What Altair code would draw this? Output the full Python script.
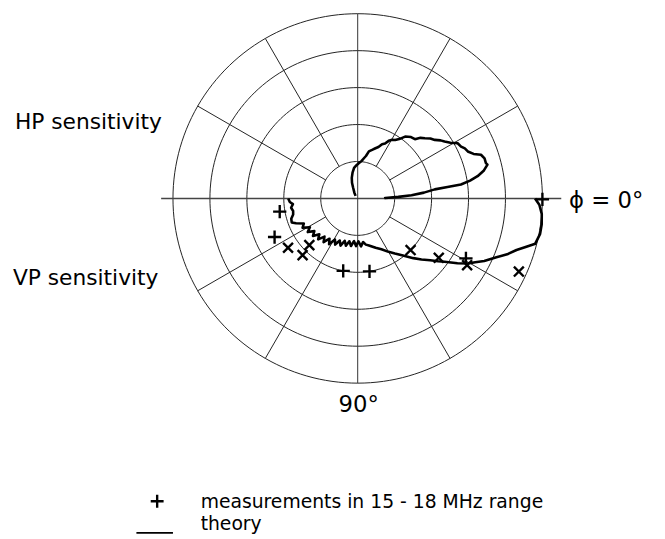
import altair as alt
import pandas as pd
import numpy as np

# ---------------- data (radius in ring units, angle in degrees) ----------------
ring_radii = [1, 2, 3, 4, 5]
spoke_angles = [30, 60, 120, 150, 210, 240, 300, 330]

# HP sensitivity (upper half), angle counter-clockwise from phi = 0
hp_phi = [0, 1, 2.2, 3.3, 5.0, 6.7, 7.2, 7.7, 9.0, 10.5, 12.5, 14.6, 15.4, 17.5, 19.5, 21.0, 23.1, 25.0,
          26.6, 28.9, 31.0, 33.2, 35.0, 37.2, 39.5, 41.8, 44.0, 46.0, 49.0, 52.5, 55.0, 57.3, 59.5, 61.7,
          63.5, 65.8, 68.0, 70.5, 73.0, 76.6, 79.0, 81.2, 84.0, 87.9, 92.0, 96.8, 101.0, 106.0, 110.0,
          113.0, 120.0, 129.0]
hp_r = [0.72, 0.75, 1.10, 1.46, 1.80, 2.10, 2.45, 2.82, 3.08, 3.30, 3.50, 3.63, 3.60, 3.60, 3.54, 3.36,
        3.24, 3.20, 3.13, 3.09, 2.93, 2.81, 2.74, 2.62, 2.55, 2.44, 2.36, 2.23, 2.20, 2.11, 1.96, 1.88,
        1.84, 1.77, 1.66, 1.61, 1.50, 1.44, 1.38, 1.31, 1.17, 1.10, 1.02, 0.96, 0.90, 0.83, 0.72, 0.58,
        0.45, 0.32, 0.18, 0.09]

# VP sensitivity (lower half), angle clockwise from phi = 0 towards 90 deg (bottom)
vp_phi = [0, 2, 4.8, 8, 11, 14.3, 16, 18, 20.5, 23, 26.3, 28.5, 30.6, 33, 36.1, 38, 40.5, 43.7, 47, 52.1,
          56, 60, 65, 70, 76.6, 80, 83, 86, 89, 92, 95, 98, 101, 104, 107, 110, 113, 116, 119, 122, 125,
          128, 131, 134, 137, 140, 143, 146, 149, 152, 155, 158, 160, 163, 166, 169, 172, 175, 177, 180]
vp_r = [4.80, 4.92, 5.00, 5.03, 5.03, 4.96, 4.75, 4.52, 4.32, 4.08, 3.82, 3.62, 3.46, 3.22, 2.91, 2.76,
        2.58, 2.39, 2.21, 1.95, 1.80, 1.67, 1.52, 1.42, 1.31, 1.27, 1.19, 1.30, 1.16, 1.29, 1.16, 1.30,
        1.18, 1.32, 1.20, 1.36, 1.24, 1.39, 1.27, 1.46, 1.33, 1.50, 1.37, 1.54, 1.42, 1.58, 1.47, 1.63,
        1.51, 1.69, 1.61, 1.80, 1.90, 1.88, 1.80, 1.78, 1.82, 1.76, 1.84, 1.88]

# measurements in 15 - 18 MHz range (VP, lower half)
meas_plus_phi = [0.3, 29.0, 80.8, 101.3, 155.1, 170.4]
meas_plus_r = [5.00, 3.35, 2.00, 2.00, 2.48, 2.14]
meas_x_phi = [24.4, 31.4, 36.2, 44.3, 134.2, 136.0, 144.7]
meas_x_r = [4.79, 3.47, 2.72, 2.00, 2.14, 1.82, 2.31]

# ---------------- layout ----------------
W, H = 657, 531
U = 37.4                 # pixels per ring
CX, CY = 354, 189.5      # centre in plot coordinates
xs = alt.Scale(domain=[-CX / U, (W - CX) / U], nice=False, zero=False)
ys = alt.Scale(domain=[-(H - CY) / U, CY / U], nice=False, zero=False)
FONT = "DejaVu Sans"
PLUS = "M-1,0L1,0M0,-1L0,1"
CROSS = "M-1,-1L1,1M-1,1L1,-1"

def X(f):
    return alt.X(f, type="quantitative", scale=xs, axis=None)

def Y(f):
    return alt.Y(f, type="quantitative", scale=ys, axis=None)

# rings
sweep = list(range(0, 362, 2))
ring_df = pd.DataFrame([(r, a) for r in ring_radii for a in sweep], columns=["ring", "a"])
rings = alt.Chart(ring_df).transform_calculate(
    px="datum.ring*cos(datum.a*PI/180)", py="datum.ring*sin(datum.a*PI/180)"
).mark_line(color="#222", strokeWidth=1).encode(
    x=X("px"), y=Y("py"), detail="ring:N", order="a:Q")

# spokes
spokes = alt.Chart(pd.DataFrame({"a": spoke_angles})).transform_calculate(
    x1="cos(datum.a*PI/180)", y1="sin(datum.a*PI/180)",
    x2="5*cos(datum.a*PI/180)", y2="5*sin(datum.a*PI/180)"
).mark_rule(color="#222", strokeWidth=1).encode(
    x=X("x1"), y=Y("y1"), x2="x2:Q", y2="y2:Q")

base1 = alt.Chart(pd.DataFrame({"k": [0]}))
hline = base1.mark_rule(color="#444", strokeWidth=1.6).encode(
    x=alt.X(datum=-5.32, type="quantitative", scale=xs, axis=None), x2=alt.datum(5.51),
    y=alt.Y(datum=0, type="quantitative", scale=ys, axis=None))
vline = base1.mark_rule(color="#333", strokeWidth=1).encode(
    x=alt.X(datum=0, type="quantitative", scale=xs, axis=None),
    y=alt.Y(datum=-5, type="quantitative", scale=ys, axis=None), y2=alt.datum(5))

# theory curves
hp_df = pd.DataFrame({"phi": hp_phi, "r": hp_r, "i": range(len(hp_phi))})
hp = alt.Chart(hp_df).transform_calculate(
    px="datum.r*cos(datum.phi*PI/180)", py="datum.r*sin(datum.phi*PI/180)"
).mark_line(color="black", strokeWidth=2.6, strokeJoin="round").encode(
    x=X("px"), y=Y("py"), order="i:Q")

vp_df = pd.DataFrame({"phi": vp_phi, "r": vp_r, "i": range(len(vp_phi))})
vp = alt.Chart(vp_df).transform_calculate(
    px="datum.r*cos(datum.phi*PI/180)", py="-datum.r*sin(datum.phi*PI/180)"
).mark_line(color="black", strokeWidth=2.6, strokeJoin="round").encode(
    x=X("px"), y=Y("py"), order="i:Q")

# measurements
mp = alt.Chart(pd.DataFrame({"phi": meas_plus_phi, "r": meas_plus_r})).transform_calculate(
    px="datum.r*cos(datum.phi*PI/180)", py="-datum.r*sin(datum.phi*PI/180)"
).mark_point(shape=PLUS, size=180, filled=False, color="black", strokeWidth=2.4, opacity=1).encode(
    x=X("px"), y=Y("py"))
mx = alt.Chart(pd.DataFrame({"phi": meas_x_phi, "r": meas_x_r})).transform_calculate(
    px="datum.r*cos(datum.phi*PI/180)", py="-datum.r*sin(datum.phi*PI/180)"
).mark_point(shape=CROSS, size=100, filled=False, color="black", strokeWidth=2.4, opacity=1).encode(
    x=X("px"), y=Y("py"))

def label(txt, x, y, size, align="left"):
    return base1.mark_text(text=txt, font=FONT, fontSize=size, align=align, baseline="alphabetic",
                           color="black").encode(x=alt.value(x), y=alt.value(y))

labels = [
    label("HP sensitivity", 7, 119, 22),
    label("VP sensitivity", 5, 277, 22),
    label("ϕ = 0°", 568, 199, 23),
    label("90°", 355, 406, 23, align="center"),
    label("measurements in 15 - 18 MHz range", 195, 503, 19),
    label("theory", 195, 525, 19),
]

leg_plus = base1.mark_point(shape=PLUS, size=170, filled=False, color="black", strokeWidth=2.4,
                            opacity=1).encode(x=alt.value(151), y=alt.value(496))
leg_line = base1.mark_rule(color="black", strokeWidth=1.8).encode(
    x=alt.value(130), x2=alt.value(167), y=alt.value(528))

chart = alt.layer(rings, spokes, hline, vline, hp, vp, mp, mx, *labels, leg_plus, leg_line).properties(
    width=W, height=H, padding=0, autosize=alt.AutoSizeParams(type="none")
).configure_view(stroke=None)

chart.save("out.html", embed_options={"renderer": "svg", "actions": False})
